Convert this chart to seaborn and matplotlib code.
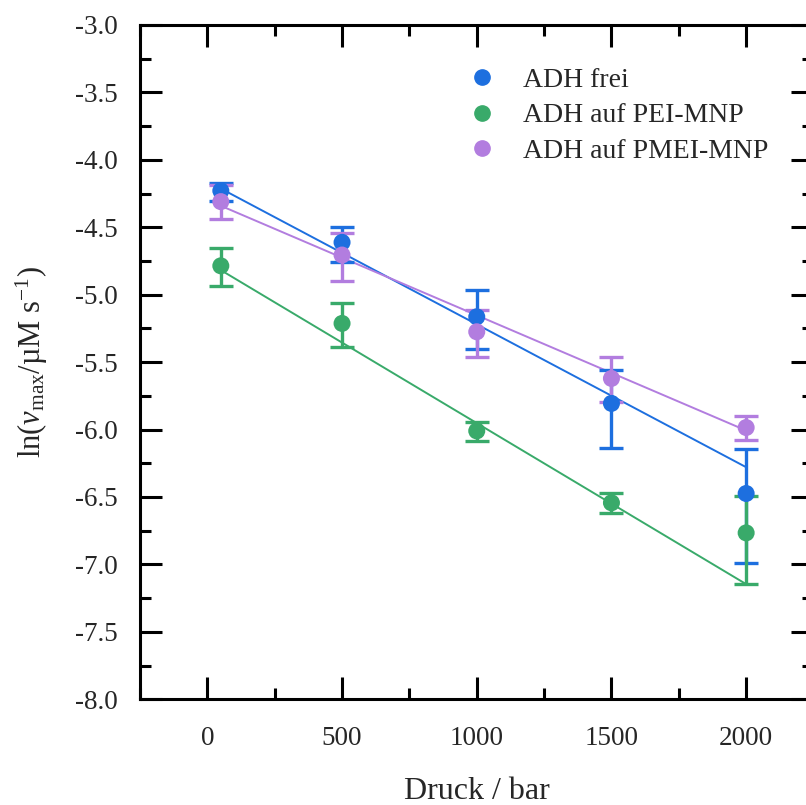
import numpy as np
import pandas as pd
import matplotlib
matplotlib.use("Agg")
import matplotlib.pyplot as plt
from matplotlib.lines import Line2D
from matplotlib.ticker import MultipleLocator, FormatStrFormatter
import seaborn as sns

# Pressure steps (bar)
pressure = [50, 500, 1000, 1500, 2000]

# ln(v_max / µM s^-1) with asymmetric error limits
frei = [-4.229, -4.612, -5.164, -5.806, -6.474]
frei_err_plus = [0.054, 0.116, 0.198, 0.247, 0.329]
frei_err_minus = [0.074, 0.148, 0.240, 0.327, 0.519]

pei = [-4.786, -5.213, -6.010, -6.543, -6.766]
pei_err_plus = [0.134, 0.148, 0.067, 0.069, 0.272]
pei_err_minus = [0.150, 0.178, 0.074, 0.079, 0.376]

pmei = [-4.310, -4.706, -5.275, -5.621, -5.985]
pmei_err_plus = [0.120, 0.165, 0.161, 0.156, 0.085]
pmei_err_minus = [0.131, 0.193, 0.190, 0.178, 0.089]

labels = ["ADH frei", "ADH auf PEI-MNP", "ADH auf PMEI-MNP"]
colors = ["#1d6fdf", "#39aa6a", "#b27ddf"]

x_ticks = [0, 500, 1000, 1500, 2000]
y_ticks = [-8.0, -7.5, -7.0, -6.5, -6.0, -5.5, -5.0, -4.5, -4.0, -3.5, -3.0]

sns.set_theme(style="ticks")
plt.rcParams["font.family"] = ["Liberation Serif", "DejaVu Serif"]
plt.rcParams["mathtext.fontset"] = "custom"
plt.rcParams["mathtext.rm"] = "Liberation Serif"
plt.rcParams["mathtext.it"] = "Liberation Serif:italic"

series = [
    (labels[0], frei, frei_err_minus, frei_err_plus, colors[0]),
    (labels[2], pmei, pmei_err_minus, pmei_err_plus, colors[2]),
    (labels[1], pei, pei_err_minus, pei_err_plus, colors[1]),
]

fig = plt.figure(figsize=(8.06, 8.05), dpi=100)
ax = fig.add_axes([0.1737, 0.1313, 0.8356, 0.8377])

x = np.array(pressure, dtype=float)
for name, y, em, ep, c in series:
    y = np.array(y)
    em = np.array(em)
    ep = np.array(ep)
    sigma = (em + ep) / 2.0
    # weighted linear fit
    slope, intercept = np.polyfit(x, y, 1, w=1.0 / sigma)
    fit = pd.DataFrame({"p": [x[0], x[-1]], "ln": [slope * x[0] + intercept, slope * x[-1] + intercept]})
    sns.lineplot(data=fit, x="p", y="ln", color=c, lw=1.4, ax=ax, legend=False, zorder=2)
    ax.errorbar(x, y, yerr=[em, ep], fmt="none", ecolor=c, elinewidth=2.4,
                capsize=8.8, capthick=2.4, zorder=3)
    df = pd.DataFrame({"p": x, "ln": y})
    sns.scatterplot(data=df, x="p", y="ln", color=c, s=150, edgecolor="none",
                    ax=ax, legend=False, zorder=4)

ax.set_xlim(-250, 2250)
ax.set_ylim(-8.0, -3.0)
ax.set_xticks(x_ticks)
ax.set_yticks(y_ticks)
ax.xaxis.set_minor_locator(MultipleLocator(250))
ax.yaxis.set_minor_locator(MultipleLocator(0.25))
ax.yaxis.set_major_formatter(FormatStrFormatter("%.1f"))

for side in ["left", "right", "top", "bottom"]:
    ax.spines[side].set_visible(True)
    ax.spines[side].set_linewidth(2.2)
    ax.spines[side].set_color("black")

ax.tick_params(which="both", direction="in", top=True, right=True, width=2.2, color="black")
ax.tick_params(which="major", length=16, labelsize=19.5, pad=16)
ax.tick_params(which="minor", length=8)
ax.tick_params(axis="x", which="major", pad=19)

ax.set_xlabel("Druck / bar", fontsize=23, labelpad=19)
ax.set_ylabel(r"ln($\mathit{v}_{\rm max}$/µM s$^{-1}$)", fontsize=22, labelpad=18)

handles = [Line2D([], [], marker="o", ls="none", color=c, markersize=11) for c in colors]
ax.legend(handles, labels, loc="upper left", bbox_to_anchor=(0.487, 0.937),
          frameon=False, fontsize=20, borderpad=0, borderaxespad=0,
          handlelength=1.0, handletextpad=0.975, labelspacing=0.36)

fig.savefig("out.png", dpi=100)
